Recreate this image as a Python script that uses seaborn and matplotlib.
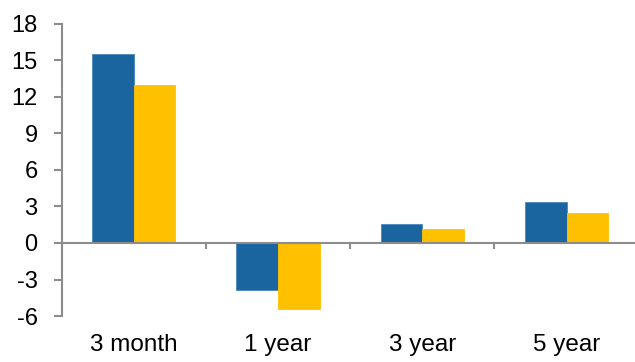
import numpy as np
import pandas as pd
import matplotlib.pyplot as plt
import matplotlib.transforms as mtransforms
import seaborn as sns

# data
periods = ["3 month", "1 year", "3 year", "5 year"]
series_a = [15.5, -3.9, 1.6, 3.4]
series_b = [13.0, -5.45, 1.15, 2.45]
series_names = ["Series A", "Series B"]
y_ticks = [-6, -3, 0, 3, 6, 9, 12, 15, 18]

colors = ["#1A64A0", "#FFC000"]
axis_grey = "#8C8C8C"

df = pd.DataFrame({
    "period": periods * 2,
    "value": series_a + series_b,
    "series": [series_names[0]] * len(periods) + [series_names[1]] * len(periods),
})

sns.set_theme(style="white")
plt.rcParams["font.family"] = ["Liberation Sans", "DejaVu Sans"]

fig = plt.figure(figsize=(6.35, 3.62), dpi=100)
ax = fig.add_axes([0.0969, 0.127, 0.909, 0.807])

sns.barplot(data=df, x="period", y="value", hue="series", order=periods,
            hue_order=series_names, palette=colors, width=0.577,
            legend=False, ax=ax, saturation=1)
for bar, c in zip(ax.patches, [colors[0]] * 4 + [colors[1]] * 4):
    bar.set_edgecolor("#4A86BD" if c == colors[0] else c)
    bar.set_linewidth(0.6)

ax.set_ylim(y_ticks[0], y_ticks[-1])
ax.set_yticks(y_ticks)
ax.set_yticklabels([str(t) for t in y_ticks], fontsize=17, color="black")
ax.set_xlim(-0.5, len(periods) - 0.5)
ax.set_xlabel("")
ax.set_ylabel("")

# x axis line sits at zero, with ticks at category boundaries
ax.spines["bottom"].set_position(("data", 0))
ax.set_xticks(np.arange(len(periods) + 1) - 0.5)
ax.set_xticklabels([])
for s in ["top", "right"]:
    ax.spines[s].set_visible(False)
for s in ["left", "bottom"]:
    ax.spines[s].set_color(axis_grey)
    ax.spines[s].set_linewidth(1.5)
ax.tick_params(axis="x", which="major", direction="out", length=4.5,
               width=1.5, color=axis_grey, bottom=True)
ax.tick_params(axis="y", which="major", direction="out", length=5.8,
               width=1.5, color=axis_grey, left=True, pad=11.5)

# category labels at the bottom of the plot
trans = mtransforms.blended_transform_factory(ax.transData, ax.transAxes)
for i, p in enumerate(periods):
    ax.text(i, -0.099, p, transform=trans, ha="center", va="center",
            fontsize=17.5, color="black")

fig.savefig("out.png", dpi=100)
